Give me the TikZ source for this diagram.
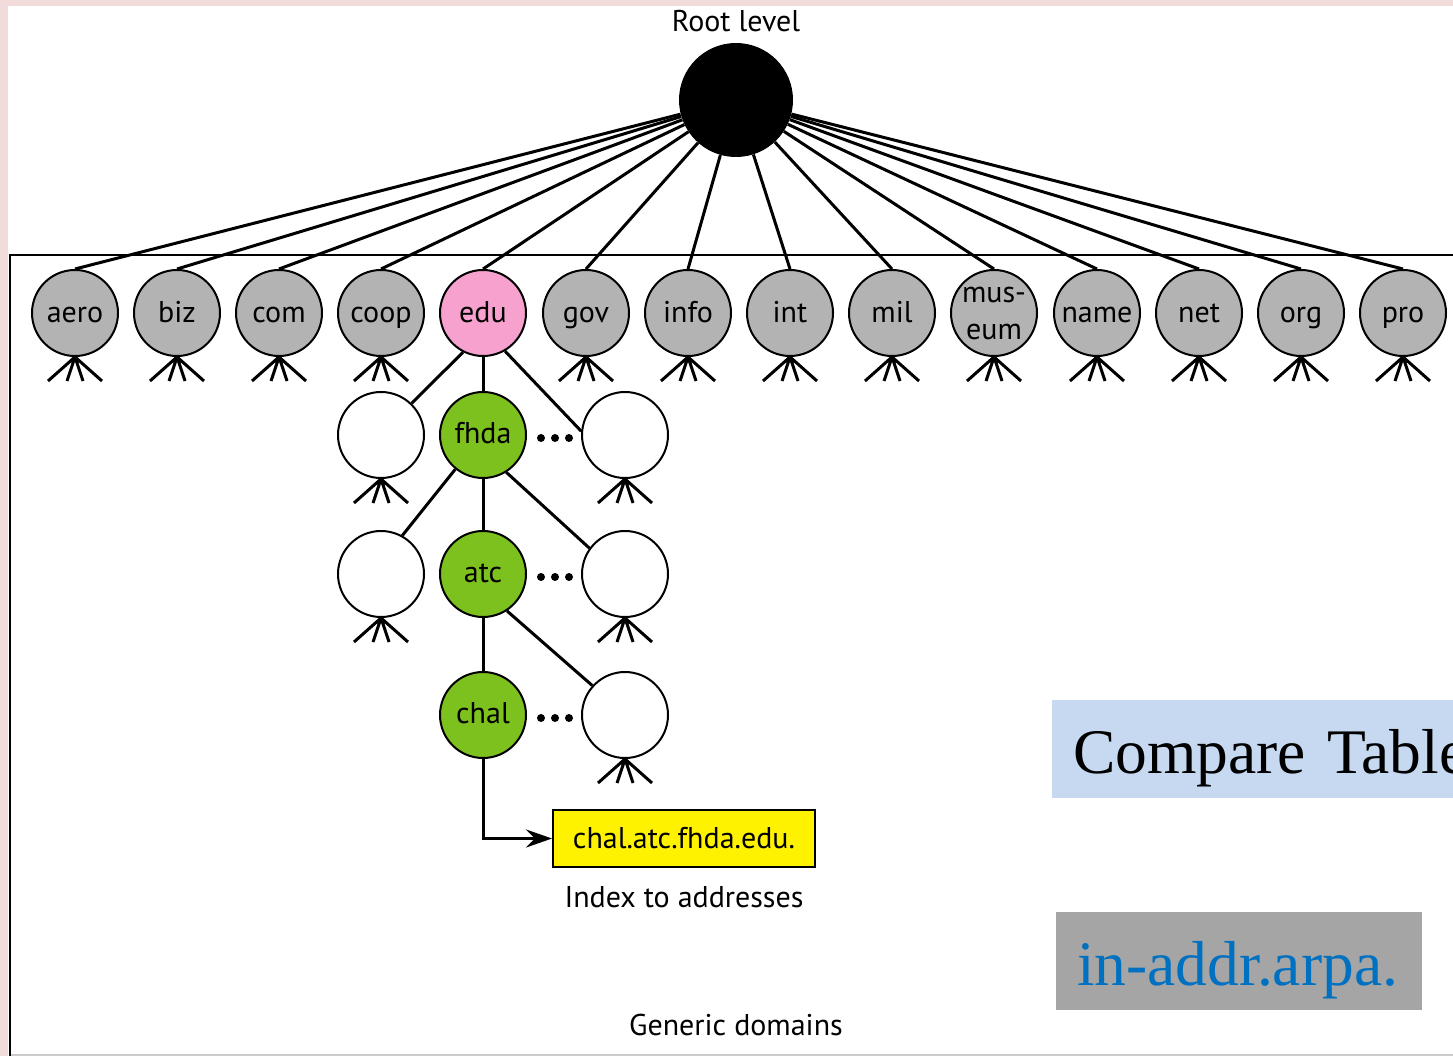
\documentclass[tikz,border=0pt]{standalone}
\usepackage{fontspec}
\setmainfont{PT Sans}
\newfontfamily\tnr{Liberation Serif}
\usetikzlibrary{arrows.meta}
\definecolor{bgpink}{HTML}{F2DCDB}
\definecolor{domgray}{HTML}{B3B3B3}
\definecolor{edupink}{HTML}{F7A1CF}
\definecolor{domgreen}{HTML}{7DC11F}
\definecolor{cmpblue}{HTML}{C6D9F0}
\definecolor{arpagray}{HTML}{A5A5A5}
\definecolor{arpatext}{HTML}{0070C0}
\tikzset{
  lbl/.style={font=\fontsize{30}{34}\selectfont, inner sep=0pt},
  dom/.style={circle, draw, line width=2pt, minimum size=86pt, inner sep=0pt,
    font=\fontsize{30}{34}\selectfont, text height=24pt, text depth=5pt},
  gdom/.style={dom, fill=domgray},
  wdom/.style={dom, fill=white},
  grdom/.style={dom, fill=domgreen, text height=23pt, text depth=6pt},
  conn/.style={line width=3pt},
  dotsnode/.style={circle, fill=black, minimum size=8pt, inner sep=0pt},
  bigbox/.style={inner ysep=0pt, inner xsep=21pt, text height=73pt, text depth=25pt,
    align=left, anchor=north west, font=\tnr\fontsize{63.5}{70}\selectfont}
}
\newcommand\forkbelow[1]{%
  \draw[conn] (#1.south) -- ++(-27,24) (#1.south) -- ++(-8,24)
              (#1.south) -- ++(8,24) (#1.south) -- ++(27,24);}
\begin{document}
\begin{tikzpicture}[x=1pt,y=-1pt]
\useasboundingbox (0,0) rectangle (1453,1056);
\clip (0,0) rectangle (1453,1056);
\fill[bgpink] (0,0) rectangle (1453,1056);
\fill[white] (8,6) rectangle (1460,1060);
% frame
\draw[gray!40, line width=1.5pt] (9.5,1055) -- (1460,1055);
\draw[line width=2pt] (9.5,1056) -- (9.5,255) -- (1460,255);

% root
\node[circle, fill=black, minimum size=114pt, inner sep=0pt] (root) at (736,100) {};
\node[lbl] (rootlbl) at (736,21) {Root level};

% top level domains
\node[gdom] (aero) at (75,313) {aero};
\node[gdom] (biz) at (177,313) {biz};
\node[gdom] (com) at (279,313) {com};
\node[gdom] (coop) at (381,313) {coop};
\node[dom, fill=edupink] (edu) at (483,313) {edu};
\node[gdom] (gov) at (586,313) {gov};
\node[gdom] (info) at (688,313) {info};
\node[gdom] (int) at (790,313) {int};
\node[gdom] (mil) at (892,313) {mil};
\node[gdom] (museum) at (994,313) {};
\node[lbl, anchor=base] (museumA) at (994,303) {mus-};
\node[lbl, anchor=base] (museumB) at (994,340) {eum};
\node[gdom] (name) at (1097,313) {name};
\node[gdom] (net) at (1199,313) {net};
\node[gdom] (org) at (1301,313) {org};
\node[gdom] (pro) at (1403,313) {pro};

\foreach \n in {aero,biz,com,coop,edu,gov,info,int,mil,museum,name,net,org,pro}{
  \draw[conn] (root) -- (\n.north);
}
\foreach \n in {aero,biz,com,coop,gov,info,int,mil,museum,name,net,org,pro}{
  \forkbelow{\n}
}

% second level
\node[wdom] (l1) at (381,435) {};
\node[grdom] (fhda) at (483,435) {fhda};
\node[wdom] (r1) at (625,435) {};
% third level
\node[wdom] (l2) at (381,574) {};
\node[grdom] (atc) at (483,574) {atc};
\node[wdom] (r2) at (625,574) {};
% fourth level
\node[grdom] (chal) at (483,715) {chal};
\node[wdom] (r3) at (625,715) {};

% dots
\foreach \yy/\k in {438/a,577/b,718/c}{
  \node[dotsnode] (d1\k) at (541,\yy) {};
  \node[dotsnode] (d2\k) at (555,\yy) {};
  \node[dotsnode] (d3\k) at (569,\yy) {};
}

% connectors in subtree
\draw[conn] (edu.-117) -- (l1.46);
\draw[conn] (edu.south) -- (fhda.north);
\draw[conn] (edu.-60) -- (r1.175);
\draw[conn] (fhda.-129) -- (l2.61);
\draw[conn] (fhda.south) -- (atc.north);
\draw[conn] (fhda.-58) -- (r2.144);
\draw[conn] (atc.south) -- (chal.north);
\draw[conn] (atc.-57) -- (r3.138);

\forkbelow{l1}
\forkbelow{r1}
\forkbelow{l2}
\forkbelow{r2}
\forkbelow{r3}

% address box
\node[draw, line width=2pt, fill=yellow, minimum width=262pt, minimum height=57pt,
  inner sep=0pt, font=\fontsize{30}{34}\selectfont] (addr) at (684,838.5) {chal.atc.fhda.edu.};
\draw[conn, -{Stealth[length=26pt,width=18pt,inset=9pt]}] (chal.south) |- (addr.west);
\node[lbl] (idx) at (684,897) {Index to addresses};
\node[lbl] (gen) at (736,1025) {Generic domains};

% side boxes
\node[bigbox, fill=cmpblue, text width=400pt] (cmp) at (1052,700) {\mbox{Compare Table}};
\node[bigbox, fill=arpagray, text width=324pt, text=arpatext] (arpa) at (1056,912) {\mbox{in-addr.arpa.}};
\end{tikzpicture}
\end{document}
